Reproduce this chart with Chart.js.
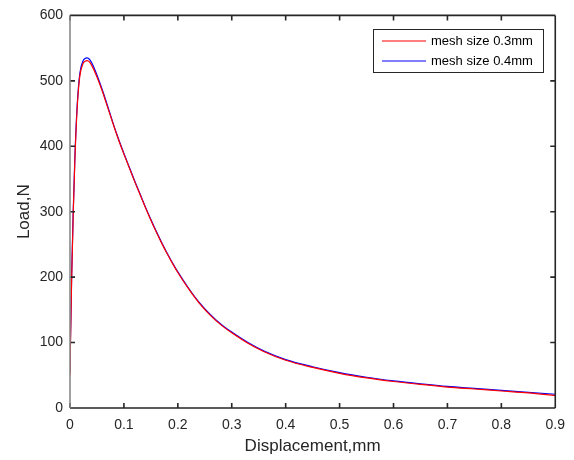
<!DOCTYPE html>
<html>
<head>
<meta charset="utf-8">
<script src="https://cdn.jsdelivr.net/npm/chart.js@4.4.1/dist/chart.umd.min.js"></script>
<style>
  html, body { margin: 0; padding: 0; background: #fff; }
  #wrap { width: 574px; height: 460px; }
</style>
</head>
<body>
<div id="wrap"><canvas id="load"></canvas></div>
<script>
const displacement = [0, 0.001, 0.003, 0.006, 0.009, 0.013, 0.018, 0.024, 0.028, 0.032, 0.036, 0.04, 0.05, 0.06, 0.07, 0.08, 0.09, 0.10, 0.11, 0.12, 0.13, 0.14, 0.15, 0.16, 0.17, 0.18, 0.19, 0.20, 0.22, 0.24, 0.26, 0.28, 0.30, 0.33, 0.36, 0.40, 0.45, 0.50, 0.55, 0.60, 0.65, 0.70, 0.75, 0.80, 0.85, 0.90];
const loadMesh03 = [50, 105, 195, 297, 378, 454, 506, 526, 530, 531, 529, 524, 506, 484, 459, 434, 410, 388, 367, 346, 326, 306, 287, 269, 252, 236, 221, 207, 182, 160, 142, 127, 115, 99, 86, 73, 62, 53, 46, 40.5, 36, 32, 29, 26, 23, 19];
const loadMesh04 = [55, 110, 200, 301, 382, 458, 510, 530, 534, 535, 533, 528, 509, 486, 461, 435, 411, 389, 368, 347, 327, 307, 288, 270, 253, 237, 222, 208, 183, 161, 143, 128, 116, 100, 87, 74, 63, 54, 47, 41.5, 37, 33, 30, 27, 24, 21];
const xTicks = [0, 0.1, 0.2, 0.3, 0.4, 0.5, 0.6, 0.7, 0.8, 0.9];
const yTicks = [0, 100, 200, 300, 400, 500, 600];
const seriesNames = ["mesh size 0.3mm", "mesh size 0.4mm"];

const FONT = "'Liberation Sans', Arial, sans-serif";
const INK = "#262626";

function toPoints(ys) {
  return displacement.map((x, i) => ({ x: x, y: ys[i] }));
}

// box, inward ticks on all four sides, and legend, MATLAB style
const matlabBox = {
  id: "matlabBox",
  afterDraw(chart) {
    const { ctx, chartArea: { top, bottom, left, right }, scales: { x, y } } = chart;
    ctx.save();
    ctx.lineWidth = 1.6;
    ctx.strokeStyle = INK;
    ctx.beginPath();
    ctx.moveTo(left, top); ctx.lineTo(right, top);
    ctx.moveTo(right, top); ctx.lineTo(right, bottom);
    ctx.moveTo(left, bottom); ctx.lineTo(right, bottom);
    xTicks.forEach((v) => {
      const px = x.getPixelForValue(v);
      ctx.moveTo(px, bottom); ctx.lineTo(px, bottom - 5);
      ctx.moveTo(px, top); ctx.lineTo(px, top + 5);
    });
    yTicks.forEach((v) => {
      const py = y.getPixelForValue(v);
      ctx.moveTo(left, py); ctx.lineTo(left + 5, py);
      ctx.moveTo(right, py); ctx.lineTo(right - 5, py);
    });
    ctx.stroke();
    ctx.strokeStyle = "#8a8a8a";
    ctx.beginPath();
    ctx.moveTo(left, top); ctx.lineTo(left, bottom);
    ctx.stroke();

    // legend
    const lx = 373, ly = 29, lw = 170, lh = 43;
    ctx.fillStyle = "#fff";
    ctx.fillRect(lx, ly, lw, lh);
    ctx.lineWidth = 1;
    ctx.strokeStyle = INK;
    ctx.strokeRect(lx + 0.5, ly + 0.5, lw, lh);
    ctx.font = "13px " + FONT;
    ctx.textBaseline = "middle";
    chart.data.datasets.forEach((ds, i) => {
      const yy = ly + 12 + i * 20;
      ctx.strokeStyle = ds.borderColor;
      ctx.lineWidth = 1.2;
      ctx.beginPath();
      ctx.moveTo(lx + 9, yy); ctx.lineTo(lx + 53, yy);
      ctx.stroke();
      ctx.fillStyle = "#000";
      ctx.fillText(ds.label, lx + 58, yy);
    });
    ctx.restore();
  },
};

new Chart(document.getElementById("load"), {
  type: "scatter",
  data: {
    datasets: [
      { label: seriesNames[0], data: toPoints(loadMesh03), borderColor: "#ff0000" },
      { label: seriesNames[1], data: toPoints(loadMesh04), borderColor: "#0000ff" },
    ],
  },
  options: {
    responsive: true,
    maintainAspectRatio: false,
    animation: false,
    showLine: true,
    layout: { padding: { top: 14, right: 17, left: 0, bottom: 0 } },
    elements: {
      point: { radius: 0 },
      line: { borderWidth: 1.2, cubicInterpolationMode: "monotone", fill: false },
    },
    scales: {
      x: {
        type: "linear",
        min: 0,
        max: 0.9,
        afterFit: (s) => { s.height = 52; },
        afterBuildTicks: (s) => { s.ticks = xTicks.map((v) => ({ value: v })); },
        grid: { display: false, drawTicks: false },
        border: { display: false },
        ticks: {
          padding: 9,
          color: INK,
          font: { family: FONT, size: 14 },
          maxRotation: 0,
          callback: (v) => String(v),
        },
        title: {
          display: true,
          text: "Displacement,mm",
          color: INK,
          font: { family: FONT, size: 17 },
          padding: { top: 0, bottom: 3 },
        },
      },
      y: {
        min: 0,
        max: 600,
        afterFit: (s) => { s.width = 70; },
        afterBuildTicks: (s) => { s.ticks = yTicks.map((v) => ({ value: v })); },
        grid: { display: false, drawTicks: false },
        border: { display: false },
        ticks: {
          padding: 7,
          color: INK,
          font: { family: FONT, size: 14 },
        },
        title: {
          display: true,
          text: "Load,N",
          color: INK,
          font: { family: FONT, size: 17 },
          padding: { top: 14, bottom: 0 },
        },
      },
    },
    plugins: {
      legend: { display: false },
      tooltip: { enabled: false },
    },
  },
  plugins: [matlabBox],
});
</script>
</body>
</html>
